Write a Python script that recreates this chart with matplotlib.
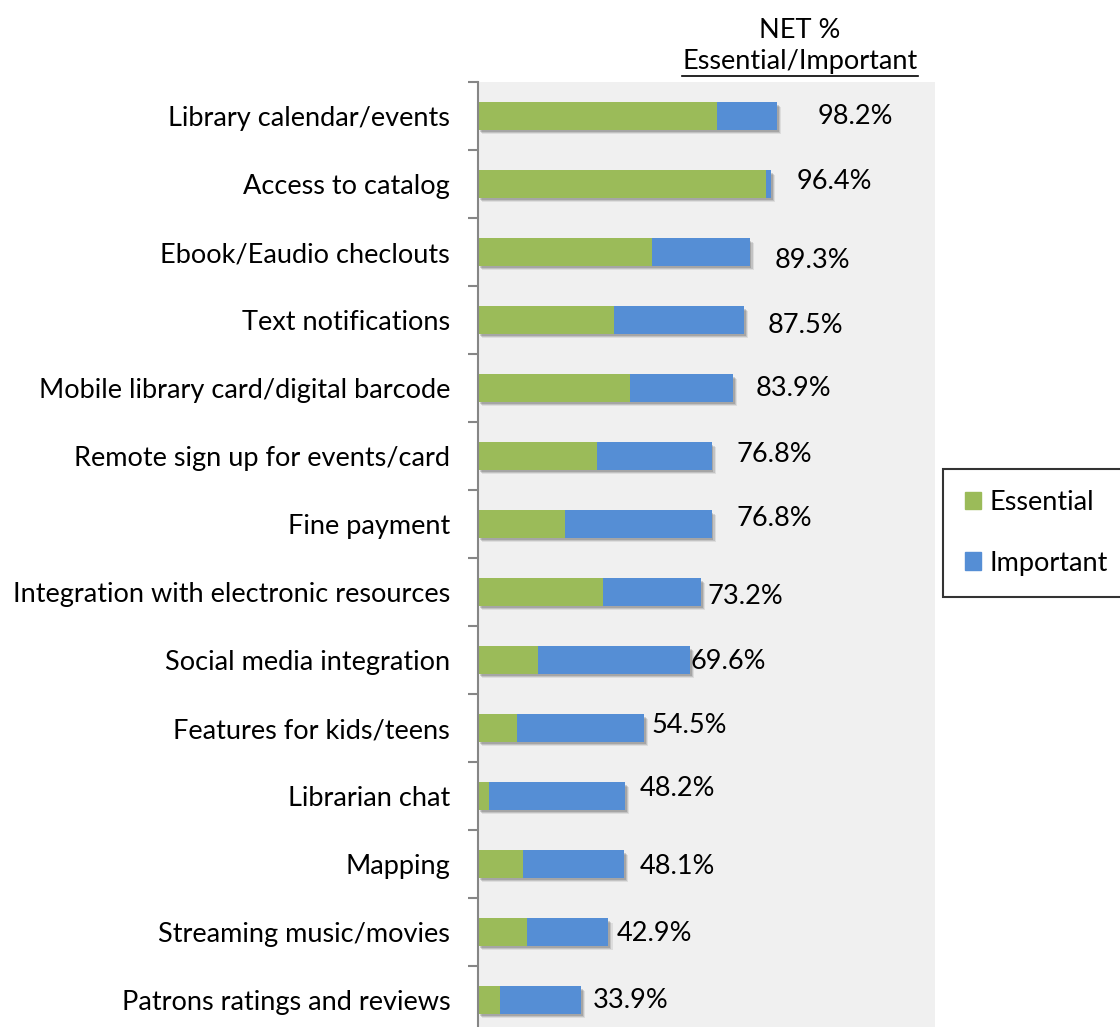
import matplotlib
matplotlib.use('Agg')
import matplotlib.pyplot as plt
import matplotlib.patheffects as pe
from matplotlib.lines import Line2D
from matplotlib.patches import Patch
import numpy as np

plt.rcParams['font.family'] = ['Lato', 'DejaVu Sans']

features = [
    'Library calendar/events',
    'Access to catalog',
    'Ebook/Eaudio checlouts',
    'Text notifications',
    'Mobile library card/digital barcode',
    'Remote sign up for events/card',
    'Fine payment',
    'Integration with electronic resources',
    'Social media integration',
    'Features for kids/teens',
    'Librarian chat',
    'Mapping',
    'Streaming music/movies',
    'Patrons ratings and reviews',
]
essential = [78.6, 94.6, 57.1, 44.6, 50.0, 39.3, 28.6, 41.1, 19.6, 12.7, 3.6, 14.8, 16.1, 7.1]
net = [98.2, 96.4, 89.3, 87.5, 83.9, 76.8, 76.8, 73.2, 69.6, 54.5, 48.2, 48.1, 42.9, 33.9]
important = [round(n - e, 1) for n, e in zip(net, essential)]

# hand-placed value labels: (dx, dy) in pixels from the bar end
label_nudge = [(41, 0), (26, 3), (25, -8), (24, -5), (23, 0), (25, 2), (25, 6),
               (7, -4), (1, -1), (8, 3), (15, 8), (15, -2), (8, -1), (12, 0)]

GREEN = '#9BBB59'
BLUE = '#558ED5'
FS = 19.5

fig = plt.figure(figsize=(11.2, 10.27), dpi=100)
ax = fig.add_axes([478 / 1120, -7 / 1027, (935 - 478) / 1120, 952 / 1027])
ax.set_facecolor('#F0F0F0')

y = np.arange(len(features))
# soft drop shadow under the bars
shadow = [pe.SimplePatchShadow(offset=(3.0, -3.5), shadow_rgbFace='#000000', alpha=0.08),
          pe.SimplePatchShadow(offset=(2.2, -2.6), shadow_rgbFace='#000000', alpha=0.12),
          pe.SimplePatchShadow(offset=(1.4, -1.8), shadow_rgbFace='#000000', alpha=0.15),
          pe.Normal()]
b1 = ax.barh(y, essential, height=0.4, color=GREEN, linewidth=0)
b2 = ax.barh(y, important, left=essential, height=0.4, color=BLUE, linewidth=0)
for r1, r2 in zip(b1, b2):
    r1.set_path_effects(shadow)
    r2.set_path_effects(shadow)

ax.set_xlim(0, 150.3)
ax.set_ylim(len(features) - 0.5, -0.5)

for i, (n, (dx, dy)) in enumerate(zip(net, label_nudge)):
    ax.annotate(f'{n:.1f}%', xy=(n, i), xytext=(dx * 0.72, dy * 0.72),
                textcoords='offset points', ha='left', va='center', fontsize=FS)

for s in ['top', 'right', 'bottom']:
    ax.spines[s].set_visible(False)
ax.spines['left'].set_color('#868686')
ax.spines['left'].set_linewidth(1.5)
ax.set_xticks([])
ax.set_yticks(y)
ax.set_yticklabels(features, fontsize=FS)
ax.tick_params(axis='y', which='major', length=0, pad=20)
ax.set_yticks(np.arange(len(features) + 1) - 0.5, minor=True)
ax.tick_params(axis='y', which='minor', length=7, width=1.5, color='#868686')

fig.text(800 / 1120, 1 - 31 / 1027, 'NET %', ha='center', va='center', fontsize=FS)
hdr = fig.text(800 / 1120, 1 - 62 / 1027, 'Essential/Important', ha='center',
               va='center', fontsize=FS)

leg = fig.legend(handles=[Patch(color=GREEN, label='Essential'),
                          Patch(color=BLUE, label='Important')],
                 loc='center left', bbox_to_anchor=(943 / 1120, 1 - 533 / 1027),
                 frameon=True, fancybox=False, fontsize=FS, handlelength=0.6,
                 handleheight=0.6, handletextpad=0.3, labelspacing=1.3,
                 borderpad=0.8, borderaxespad=0)
leg.get_frame().set_edgecolor('black')
leg.get_frame().set_linewidth(1.5)

# underline the header
fig.canvas.draw()
bb = hdr.get_window_extent()
fig.add_artist(Line2D([bb.x0 / 1120, bb.x1 / 1120], [(bb.y0 - 1) / 1027] * 2,
                      color='black', linewidth=1.2, transform=fig.transFigure))

fig.savefig('out.png', dpi=100)
